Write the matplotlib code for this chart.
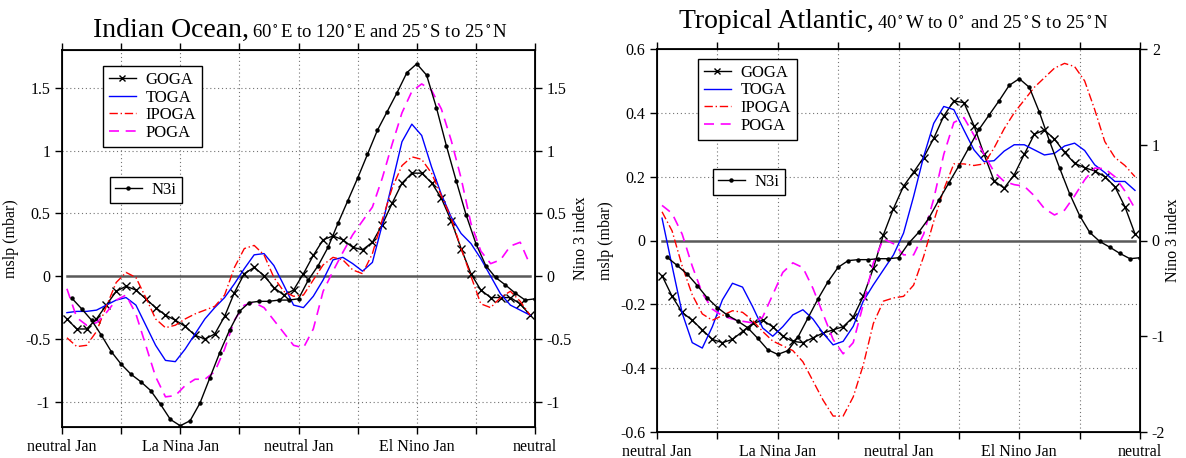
import numpy as np
import matplotlib
matplotlib.use("Agg")
import matplotlib.pyplot as plt
from matplotlib.lines import Line2D

# ---- dados (48 meses, de neutral Jan a neutral) ----
tick_labels = ["neutral Jan", "", "La Nina Jan", "", "neutral Jan", "", "El Nino Jan", "", "neutral"]
model_names = ["GOGA", "TOGA", "IPOGA", "POGA"]

# indice Nino 3 (igual nos dois paineis), meses 1..48
n3i = [-0.175, -0.26, -0.35, -0.47, -0.60, -0.70, -0.78, -0.84, -0.91, -1.02, -1.14, -1.19,
       -1.15, -1.01, -0.81, -0.61, -0.43, -0.28, -0.21, -0.20, -0.20, -0.19, -0.19, -0.18,
       -0.03, 0.085, 0.23, 0.42, 0.60, 0.78, 0.97, 1.16, 1.31, 1.46, 1.62, 1.69,
       1.60, 1.34, 1.04, 0.76, 0.49, 0.26, 0.085, -0.01, -0.07, -0.135, -0.19, -0.18]

# Indian Ocean (mslp, mbar)
io_goga = [-0.34, -0.42, -0.42, -0.34, -0.23, -0.12, -0.08, -0.11, -0.18, -0.25, -0.31, -0.35,
           -0.40, -0.47, -0.50, -0.46, -0.32, -0.13, 0.02, 0.07, 0.005, -0.09, -0.15, -0.11,
           0.02, 0.165, 0.29, 0.32, 0.29, 0.23, 0.21, 0.27, 0.41, 0.58, 0.74, 0.82,
           0.82, 0.745, 0.62, 0.44, 0.22, 0.02, -0.11, -0.17, -0.17, -0.17, -0.22, -0.31]
io_toga = [-0.29, -0.28, -0.28, -0.27, -0.23, -0.19, -0.17, -0.23, -0.39, -0.55, -0.67, -0.68,
           -0.58, -0.46, -0.34, -0.25, -0.17, -0.06, 0.06, 0.17, 0.18, 0.085, -0.07, -0.23,
           -0.25, -0.16, -0.03, 0.13, 0.15, 0.10, 0.04, 0.11, 0.41, 0.74, 1.07, 1.21,
           1.12, 0.87, 0.65, 0.47, 0.34, 0.26, 0.14, 0.0, -0.14, -0.23, -0.27, -0.31]
io_ipoga = [-0.49, -0.56, -0.55, -0.44, -0.24, -0.05, 0.03, -0.01, -0.17, -0.34, -0.41, -0.39,
            -0.34, -0.30, -0.27, -0.24, -0.15, 0.07, 0.22, 0.245, 0.17, -0.01, -0.12, -0.16,
            -0.15, -0.03, 0.09, 0.15, 0.13, 0.05, 0.02, 0.18, 0.45, 0.70, 0.88, 0.95,
            0.93, 0.82, 0.64, 0.46, 0.22, 0.0, -0.22, -0.25, -0.17, -0.12, -0.20, -0.31]
io_poga = [-0.10, -0.33, -0.39, -0.37, -0.29, -0.19, -0.15, -0.30, -0.55, -0.80, -0.96, -0.95,
           -0.87, -0.82, -0.82, -0.76, -0.58, -0.35, -0.23, -0.21, -0.25, -0.35, -0.45, -0.55,
           -0.57, -0.42, -0.12, 0.04, 0.19, 0.33, 0.44, 0.55, 0.78, 1.05, 1.30, 1.47,
           1.53, 1.48, 1.33, 1.08, 0.78, 0.42, 0.20, 0.10, 0.13, 0.24, 0.27, 0.09]

# Tropical Atlantic (mslp, mbar)
ta_goga = [-0.11, -0.175, -0.225, -0.25, -0.28, -0.31, -0.32, -0.31, -0.285, -0.26, -0.25, -0.27,
           -0.30, -0.316, -0.32, -0.305, -0.29, -0.28, -0.27, -0.24, -0.175, -0.087, 0.018, 0.10,
           0.17, 0.214, 0.26, 0.32, 0.39, 0.437, 0.432, 0.36, 0.27, 0.187, 0.164, 0.206,
           0.27, 0.333, 0.346, 0.318, 0.276, 0.242, 0.228, 0.218, 0.20, 0.169, 0.106, 0.021]
ta_toga = [0.07, -0.08, -0.227, -0.32, -0.337, -0.27, -0.186, -0.134, -0.146, -0.207, -0.274, -0.30,
           -0.27, -0.233, -0.217, -0.246, -0.29, -0.327, -0.316, -0.269, -0.19, -0.139, -0.092, -0.045,
           0.023, 0.138, 0.263, 0.367, 0.42, 0.41, 0.346, 0.284, 0.247, 0.25, 0.28, 0.30,
           0.30, 0.284, 0.268, 0.273, 0.296, 0.305, 0.282, 0.237, 0.213, 0.185, 0.185, 0.157]
ta_ipoga = [0.09, 0.03, -0.08, -0.17, -0.23, -0.25, -0.235, -0.22, -0.225, -0.25, -0.285, -0.315,
            -0.33, -0.345, -0.38, -0.44, -0.50, -0.55, -0.55, -0.49, -0.39, -0.26, -0.19, -0.18,
            -0.175, -0.14, -0.05, 0.06, 0.16, 0.24, 0.24, 0.235, 0.24, 0.29, 0.35, 0.40,
            0.44, 0.48, 0.51, 0.54, 0.555, 0.545, 0.50, 0.41, 0.31, 0.26, 0.235, 0.20]
ta_poga = [0.11, 0.085, 0.02, -0.08, -0.165, -0.215, -0.236, -0.246, -0.253, -0.258, -0.24, -0.17,
           -0.10, -0.07, -0.085, -0.15, -0.23, -0.31, -0.355, -0.32, -0.20, -0.07, 0.005, -0.01,
           -0.045, -0.045, 0.02, 0.13, 0.27, 0.37, 0.385, 0.33, 0.27, 0.215, 0.185, 0.175,
           0.17, 0.14, 0.10, 0.08, 0.095, 0.14, 0.19, 0.227, 0.225, 0.20, 0.155, 0.10]

# ---- estilo ----
plt.rcParams.update({
    "font.family": ["Liberation Serif", "DejaVu Serif"],
    "mathtext.fontset": "stix",
    "font.size": 11,
})

W, H = 1186, 458
model_kwds = {
    "GOGA": dict(color="black", lw=1.0, marker="x", ms=5.5, mew=1.0),
    "TOGA": dict(color="blue", lw=1.0),
    "IPOGA": dict(color="red", lw=1.0, ls=(0, (6, 2, 1, 2))),
    "POGA": dict(color="magenta", lw=1.2, ls=(0, (6, 4))),
}
n3i_kwds = dict(color="black", lw=1.0, marker="o", ms=2.2)
grid_kwds = dict(color="0.45", lw=0.8, ls=(0, (1, 2.5)))


def fig_rect(x0, y0, x1, y1):
    # pixels (top-left origin) -> figure fraction
    return [x0 / W, 1 - y1 / H, (x1 - x0) / W, (y1 - y0) / H]


def plot_panel(ax, series, ylim, yticks, ylabels, n3_lim, n3_ticks, n3_labels,
               leg_xy, n3leg_xy, n3_pad):
    months = np.arange(len(series[0])) + 0.5
    n3_months = np.arange(1, len(n3i) + 1)

    for y in yticks:
        if ylim[0] < y < ylim[1] and abs(y) > 1e-9:
            ax.axhline(y, **grid_kwds, zorder=0)
    for x in range(6, 48, 6):
        ax.axvline(x, **grid_kwds, zorder=0)
    ax.plot([months[0], months[-1]], [0, 0], color="0.35", lw=1.8, zorder=1)

    for name, vals in zip(model_names, series):
        ax.plot(months, vals, **model_kwds[name], zorder=3)

    ax.set_xlim(0, 48)
    ax.set_ylim(*ylim)
    ax.set_xticks(range(0, 49, 6))
    ax.set_xticklabels(tick_labels, fontsize=11.5)
    ax.set_yticks(yticks)
    ax.set_yticklabels(ylabels, fontsize=11.5)
    ax.set_ylabel("mslp (mbar)", fontsize=11.5, labelpad=4)
    ax.tick_params(axis="x", top=True, direction="out", length=5, width=1)
    ax.tick_params(axis="y", direction="out", length=5, width=1)
    for s in ax.spines.values():
        s.set_linewidth(1.3)

    ax2 = ax.twinx()
    ax2.plot(n3_months, n3i, **n3i_kwds, zorder=3)
    ax2.set_ylim(*n3_lim)
    ax2.set_yticks(n3_ticks)
    ax2.set_yticklabels(n3_labels, fontsize=11.5)
    ax2.set_ylabel("Nino 3 index", fontsize=11.5, labelpad=n3_pad)
    ax2.tick_params(axis="y", direction="out", length=5, width=1)
    ax2.set_xlim(0, 48)

    # legendas
    handles = [Line2D([], [], **model_kwds[n]) for n in model_names]
    leg = ax2.legend(handles, model_names, loc="upper left",
                     bbox_to_anchor=(leg_xy[0] / W, 1 - leg_xy[1] / H),
                     bbox_transform=ax.figure.transFigure, borderaxespad=0,
                     fancybox=False, edgecolor="black", framealpha=1, fontsize=12,
                     handlelength=1.6, handletextpad=0.6, labelspacing=0.1, borderpad=0.35,
                     markerscale=0.9)
    leg.get_frame().set_linewidth(1.0)
    ax2.add_artist(leg)
    leg2 = ax2.legend([Line2D([], [], **n3i_kwds)], ["N3i"], loc="upper left",
                      bbox_to_anchor=(n3leg_xy[0] / W, 1 - n3leg_xy[1] / H),
                      bbox_transform=ax.figure.transFigure, borderaxespad=0,
                      fancybox=False, edgecolor="black", framealpha=1, fontsize=12,
                      handlelength=1.6, handletextpad=0.6, borderpad=0.3)
    leg2.get_frame().set_linewidth(1.0)
    return ax2


def title(fig, big, small, cx, y):
    # titulo com duas partes de tamanhos diferentes, centrado em cx (pixels)
    r = fig.canvas.get_renderer()
    t1 = fig.text(0, 1 - y / H, big, fontsize=20, va="baseline", ha="left")
    t2 = fig.text(0, 1 - y / H, small, fontsize=13.5, va="baseline", ha="left")
    w1 = t1.get_window_extent(r).width
    w2 = t2.get_window_extent(r).width
    x0 = cx - (w1 + w2 + 3) / 2
    t1.set_x(x0 / W)
    t2.set_x((x0 + w1 + 3) / W)


fig = plt.figure(figsize=(W / 100, H / 100), dpi=100)

ax_io = fig.add_axes(fig_rect(62, 50, 535, 427))
plot_panel(ax_io, [io_goga, io_toga, io_ipoga, io_poga],
           ylim=(-1.2, 1.8), yticks=[-1, -0.5, 0, 0.5, 1, 1.5],
           ylabels=["-1", "-0.5", "0", "0.5", "1", "1.5"],
           n3_lim=(-1.2, 1.8), n3_ticks=[-1, -0.5, 0, 0.5, 1, 1.5],
           n3_labels=["-1", "-0.5", "0", "0.5", "1", "1.5"],
           leg_xy=(103, 66), n3leg_xy=(110, 177), n3_pad=1)

ax_ta = fig.add_axes(fig_rect(657, 49, 1140, 432))
plot_panel(ax_ta, [ta_goga, ta_toga, ta_ipoga, ta_poga],
           ylim=(-0.6, 0.6), yticks=[-0.6, -0.4, -0.2, 0, 0.2, 0.4, 0.6],
           ylabels=["-0.6", "-0.4", "-0.2", "0", "0.2", "0.4", "0.6"],
           n3_lim=(-2, 2), n3_ticks=[-2, -1, 0, 1, 2],
           n3_labels=["-2", "-1", "0", "1", "2"],
           leg_xy=(698, 59), n3leg_xy=(713, 169), n3_pad=0)

fig.canvas.draw()
title(fig, "Indian Ocean,", r"60$^\circ$E to 120$^\circ$E and 25$^\circ$S to 25$^\circ$N", 300, 37)
title(fig, "Tropical Atlantic,", r"40$^\circ$W to 0$^\circ$ and 25$^\circ$S to 25$^\circ$N", 894, 28)

fig.savefig("out.png", dpi=100)
